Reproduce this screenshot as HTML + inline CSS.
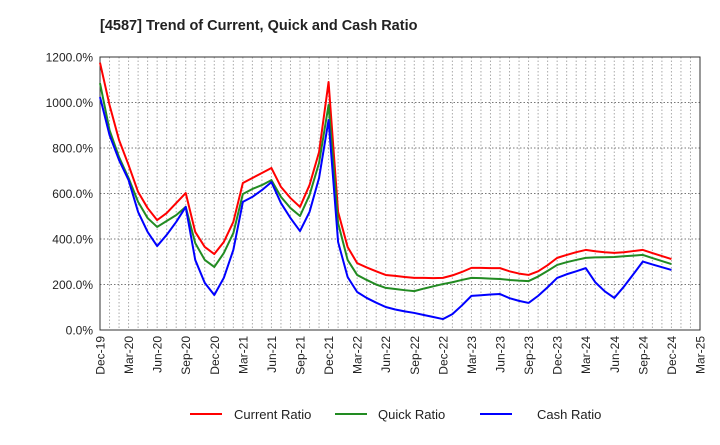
<!DOCTYPE html>
<html><head><meta charset="utf-8"><style>
body{margin:0;background:#fff;font-family:"Liberation Sans",Arial,sans-serif}
svg text{font-family:"Liberation Sans",Arial,sans-serif}
</style></head><body>
<svg id="chart" width="720" height="440" xmlns="http://www.w3.org/2000/svg">
<text x="100" y="30" font-size="14.5" font-weight="bold" fill="#222">[4587]  Trend of Current, Quick and Cash Ratio</text>
<g id="grid"></g><g id="axes"></g><g id="series"></g>
<g>
<line x1="190" y1="414" x2="222" y2="414" stroke="#ff0000" stroke-width="2"/>
<text x="234" y="419" font-size="13" fill="#222">Current Ratio</text>
<line x1="335" y1="414" x2="367" y2="414" stroke="#228b22" stroke-width="2"/>
<text x="378" y="419" font-size="13" fill="#222">Quick Ratio</text>
<line x1="480" y1="414" x2="512" y2="414" stroke="#0000ff" stroke-width="2"/>
<text x="537" y="419" font-size="13" fill="#222">Cash Ratio</text>
</g>
</svg>
<script>
const xLabels=["Dec-19","Mar-20","Jun-20","Sep-20","Dec-20","Mar-21","Jun-21","Sep-21","Dec-21","Mar-22","Jun-22","Sep-22","Dec-22","Mar-23","Jun-23","Sep-23","Dec-23","Mar-24","Jun-24","Sep-24","Dec-24","Mar-25"];
const yTicks=[0,200,400,600,800,1000,1200];
const currentRatio=[1175,989,835,725,607,536,483,514,558,602,431,365,334,387,475,646,668,690,712,629,580,541,637,782,1090,519,365,294,275,258,242,238,233,229,229,228,229,240,255,273,273,272,272,258,248,242,258,285,317,330,342,352,346,342,339,342,347,352,338,325,312];
const quickRatio=[1085,879,760,668,563,492,453,479,505,541,382,308,277,338,426,598,620,637,659,585,536,501,593,734,989,470,308,242,220,200,185,180,175,171,182,192,202,210,220,229,228,226,224,220,217,215,235,260,286,298,308,317,319,320,321,324,327,330,316,303,290];
const cashRatio=[1024,857,747,659,519,431,369,418,475,541,308,207,154,229,352,563,585,615,650,558,492,435,519,668,923,387,233,167,141,120,101,90,82,75,66,57,48,70,108,150,153,156,158,140,128,119,150,188,229,245,258,272,210,170,141,190,245,301,288,276,264];
const X0=100,X1=700,Y0=330,Y1=57,NM=63,YMAX=1200;
const xs=m=>X0+(X1-X0)*m/NM;
const ys=v=>Y0-(Y0-Y1)*v/YMAX;
const NS="http://www.w3.org/2000/svg";
function mk(tag,attrs,parent){const e=document.createElementNS(NS,tag);for(const k in attrs)e.setAttribute(k,attrs[k]);parent.appendChild(e);return e;}
const grid=document.getElementById('grid'),axes=document.getElementById('axes'),ser=document.getElementById('series');
for(let m=1;m<NM;m++){const l=mk('line',{x1:xs(m),x2:xs(m),y1:Y1,y2:Y0,stroke:'#aaa','stroke-dasharray':'1.5,2','stroke-width':1},grid);

}
yTicks.forEach(v=>{const l=mk('line',{x1:X0,x2:X1,y1:ys(v),y2:ys(v),stroke:'#777','stroke-dasharray':'1.5,2','stroke-width':1},grid);


const t=mk('text',{x:X0-7,y:ys(v)+4.5,'text-anchor':'end','font-size':12,fill:'#222'},axes);t.textContent=v.toFixed(1)+'%';

});
const frame=mk('rect',{x:X0,y:Y1,width:X1-X0,height:Y0-Y1,fill:'none',stroke:'#333','stroke-width':1},axes);


xLabels.forEach((s,i)=>{const x=xs(i*3);const t=mk('text',{x:0,y:0,'text-anchor':'end','font-size':12,fill:'#222',transform:`translate(${x+4.5},${Y0+6}) rotate(-90)`},axes);t.textContent=s;

});
[[currentRatio,'#ff0000','current-ratio-line'],[quickRatio,'#228b22','quick-ratio-line'],[cashRatio,'#0000ff','cash-ratio-line']].forEach(([d,c,n])=>{
const p=mk('polyline',{points:d.map((v,i)=>xs(i)+','+ys(v)).join(' '),fill:'none',stroke:c,'stroke-width':2,'stroke-linejoin':'round'},ser);

});
</script>
</body></html>
